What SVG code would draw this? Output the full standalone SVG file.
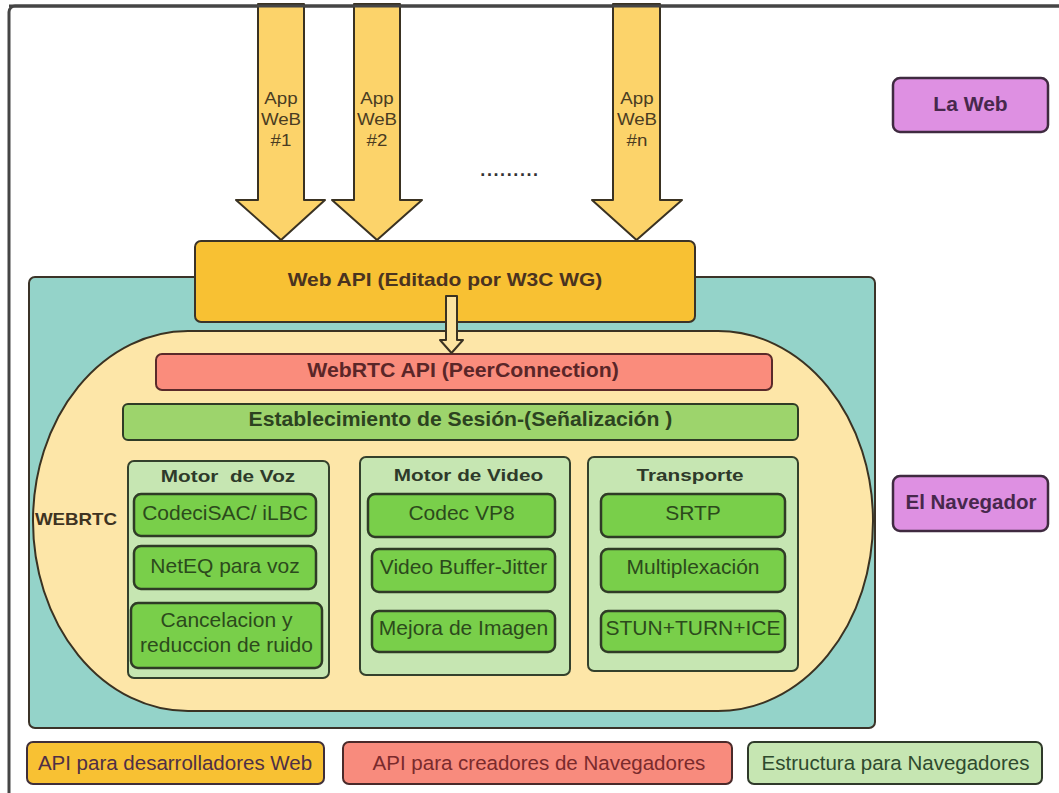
<svg xmlns="http://www.w3.org/2000/svg" width="1059" height="793" viewBox="0 0 1059 793">
  <style>
    .t { font-family: "Liberation Sans", Arial, sans-serif; text-anchor: middle; }
    .b { font-weight: bold; }
    .box { stroke: #3b3328; stroke-width: 2; }
    .panel { fill: #c6e6b2; stroke: #34402c; stroke-width: 2; }
    .cell { fill: #79cf4a; stroke: #2f3b26; stroke-width: 2.5; }
    .celltxt { font-size: 21px; fill: #2c4a1c; }
    .paneltxt { font-size: 17px; fill: #2e3a2a; font-weight: bold; }
    .app { font-size: 16px; fill: #4a3c22; }
    .flow { fill: #fcd36a; stroke: #3a3222; stroke-width: 2; stroke-linejoin: round; }
    .legtxt { font-size: 20.5px; }
  </style>

  <rect width="1059" height="793" fill="#ffffff"/>
  <!-- outer frame (continues past the right and bottom edges) -->
  <rect x="9" y="6" width="1080" height="820" rx="6" fill="none" stroke="#454545" stroke-width="3"/>

  <!-- browser area -->
  <g id="navegador-area">
    <rect x="29" y="277" width="846" height="451" rx="6" fill="#94d3c9" class="box"/>
  </g>

  <!-- WebRTC stadium -->
  <g id="webrtc">
    <rect x="33" y="331" width="840" height="380" rx="155" ry="190" fill="#fde6a8" stroke="#3a3222" stroke-width="2"/>
    <text class="t b" font-size="16.3" fill="#3e3322" transform="translate(76,525) scale(1.15,1)">WEBRTC</text>
  </g>

  <!-- Web API -->
  <g id="web-api">
    <rect x="195" y="241" width="500" height="81" rx="6" fill="#f8c133" class="box"/>
    <text class="t b" font-size="17.5" fill="#4a3320" transform="translate(445,286) scale(1.2,1)">Web API (Editado por W3C WG)</text>
  </g>

  <g id="webrtc-api">
    <rect x="156" y="354" width="616" height="36" rx="6" fill="#fa8c7c" stroke="#5a2a2a" stroke-width="2"/>
    <text class="t b" font-size="19.5" fill="#5a2628" transform="translate(463,377) scale(1.09,1)">WebRTC API (PeerConnection)</text>
  </g>

  <g id="senalizacion">
    <rect x="123" y="404" width="675" height="36" rx="5" fill="#9dd46c" stroke="#2f3b26" stroke-width="2"/>
    <text class="t b" font-size="20" fill="#2c4220" transform="translate(460.5,426) scale(1.06,1)">Establecimiento de Sesión-(Señalización )</text>
  </g>

  <!-- Motor de Voz -->
  <g id="motor-voz">
    <rect x="128" y="461" width="201" height="217" rx="6" class="panel"/>
    <text class="t paneltxt" xml:space="preserve" transform="translate(228,482) scale(1.22,1)">Motor  de Voz</text>
    <rect x="134" y="494" width="182" height="42" rx="7" class="cell"/>
    <text class="t celltxt" x="225" y="520">CodeciSAC/ iLBC</text>
    <rect x="134" y="546" width="182" height="43" rx="7" class="cell"/>
    <text class="t celltxt" x="225" y="573">NetEQ para voz</text>
    <rect x="131" y="603" width="191" height="65" rx="7" class="cell"/>
    <text class="t celltxt" x="226.5" y="627">Cancelacion y</text>
    <text class="t celltxt" x="226.5" y="652">reduccion de ruido</text>
  </g>

  <!-- Motor de Video -->
  <g id="motor-video">
    <rect x="360" y="457" width="210" height="218" rx="6" class="panel"/>
    <text class="t paneltxt" transform="translate(468.5,481) scale(1.22,1)">Motor de Video</text>
    <rect x="368" y="494" width="187" height="43" rx="7" class="cell"/>
    <text class="t celltxt" x="461.5" y="520">Codec VP8</text>
    <rect x="372" y="549" width="183" height="43" rx="7" class="cell"/>
    <text class="t celltxt" x="463.5" y="574">Video Buffer-Jitter</text>
    <rect x="372" y="611" width="183" height="41" rx="7" class="cell"/>
    <text class="t celltxt" x="463.5" y="635">Mejora de Imagen</text>
  </g>

  <!-- Transporte -->
  <g id="transporte">
    <rect x="588" y="457" width="210" height="214" rx="6" class="panel"/>
    <text class="t paneltxt" transform="translate(690,481) scale(1.22,1)">Transporte</text>
    <rect x="601" y="494" width="184" height="43" rx="7" class="cell"/>
    <text class="t celltxt" x="693" y="520">SRTP</text>
    <rect x="601" y="549" width="184" height="43" rx="7" class="cell"/>
    <text class="t celltxt" x="693" y="574">Multiplexación</text>
    <rect x="601" y="611" width="184" height="41" rx="7" class="cell"/>
    <text class="t celltxt" x="693" y="635">STUN+TURN+ICE</text>
  </g>

  <!-- side labels -->
  <g id="la-web">
    <rect x="893" y="78" width="155" height="54" rx="7" fill="#de90e2" stroke="#3f2a40" stroke-width="2.5"/>
    <text class="t b" font-size="20" fill="#47284c" transform="translate(970.5,111) scale(1.05,1)">La Web</text>
  </g>
  <g id="el-navegador">
    <rect x="893" y="476" width="155" height="55" rx="7" fill="#de90e2" stroke="#3f2a40" stroke-width="2.5"/>
    <text class="t b" font-size="20.5" fill="#47284c" x="971" y="509">El Navegador</text>
  </g>

  <!-- flow arrows -->
  <g id="connectors">
    <path class="flow" d="M258 4 L304 4 L304 200 L325 200 L281 240 L236 200 L258 200 Z"/>
    <path class="flow" d="M354 4 L400 4 L400 200 L422 200 L377 240 L332 200 L354 200 Z"/>
    <path class="flow" d="M613 4 L660 4 L660 200 L682 200 L636.5 240 L592 200 L613 200 Z"/>
    <path d="M446 296 L457 296 L457 340 L463 340 L451.5 353 L440 340 L446 340 Z" fill="#fce3a0" stroke="#3a3222" stroke-width="2" stroke-linejoin="round"/>
  </g>
  <line x1="9" y1="6" x2="1059" y2="6" stroke="#454545" stroke-width="3"/>

  <g id="app-labels">
    <text class="t app" transform="translate(281,104) scale(1.17,1)">App</text>
    <text class="t app" transform="translate(281,125) scale(1.17,1)">WeB</text>
    <text class="t app" transform="translate(281,146) scale(1.17,1)">#1</text>
    <text class="t app" transform="translate(377,104) scale(1.17,1)">App</text>
    <text class="t app" transform="translate(377,125) scale(1.17,1)">WeB</text>
    <text class="t app" transform="translate(377,146) scale(1.17,1)">#2</text>
    <text class="t app" transform="translate(637,104) scale(1.17,1)">App</text>
    <text class="t app" transform="translate(637,125) scale(1.17,1)">WeB</text>
    <text class="t app" transform="translate(637,146) scale(1.17,1)">#n</text>
    <text class="t b" font-size="18" fill="#333333" letter-spacing="1.6" x="510" y="176">.........</text>
  </g>

  <!-- legend -->
  <g id="legend-web">
    <rect x="27" y="742" width="297" height="42" rx="6" fill="#f8c133" stroke="#3f2f3a" stroke-width="2"/>
    <text class="t legtxt" fill="#4e2f46" x="175" y="770">API para desarrolladores Web</text>
  </g>
  <g id="legend-navegadores">
    <rect x="343" y="742" width="389" height="42" rx="6" fill="#f88b7d" stroke="#4a2a2a" stroke-width="2"/>
    <text class="t legtxt" fill="#7a2a2c" x="539" y="770">API para creadores de Navegadores</text>
  </g>
  <g id="legend-estructura">
    <rect x="748" y="742" width="294" height="42" rx="6" fill="#c6e6b2" stroke="#2f3a2a" stroke-width="2"/>
    <text class="t legtxt" fill="#2e4a2e" x="895.5" y="770">Estructura para Navegadores</text>
  </g>
</svg>
